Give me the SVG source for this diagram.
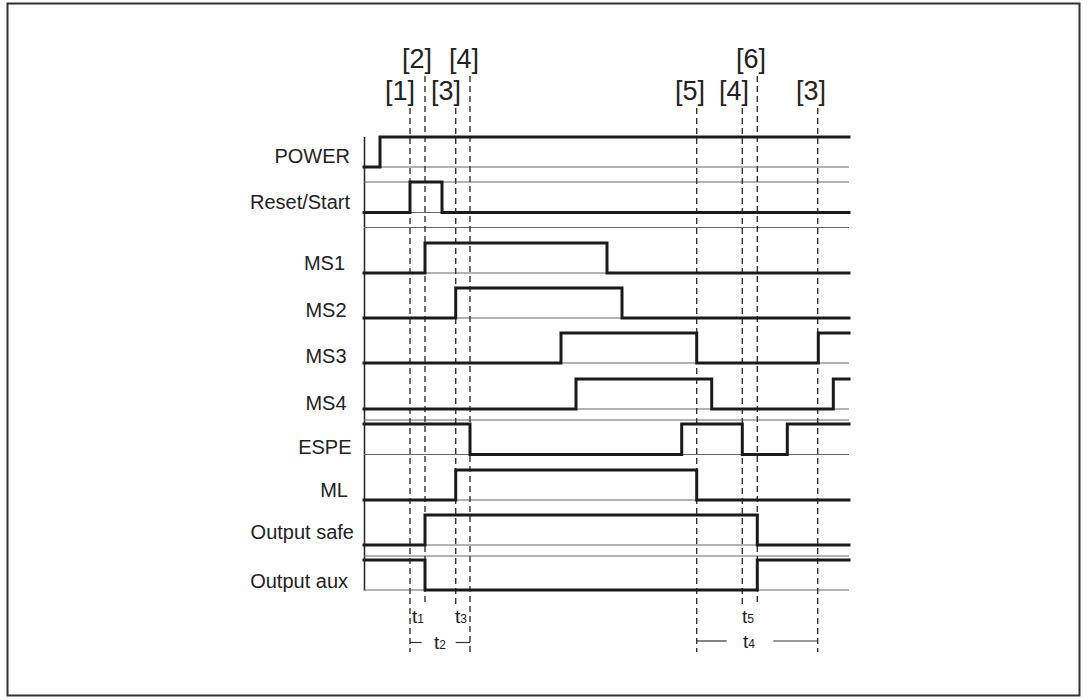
<svg xmlns="http://www.w3.org/2000/svg" width="1088" height="700" viewBox="0 0 1088 700">
  <style>
    .frame { fill: #fff; stroke: #333; stroke-width: 2; }
    .thin { stroke: #666; stroke-width: 1; fill: none; }
    .sig { stroke: #1a1a1a; stroke-width: 3; fill: none; stroke-linejoin: miter; stroke-linecap: square; }
    .dash { stroke: #333; stroke-width: 1.4; stroke-dasharray: 6 4; fill: none; }
    .dim { stroke: #333; stroke-width: 1.2; fill: none; }
    .lbl { font-family: "Liberation Sans", Arial, sans-serif; font-size: 20px; fill: #222; text-anchor: end; }
    .br { font-family: "Liberation Sans", Arial, sans-serif; font-size: 27px; fill: #222; text-anchor: middle; }
    .t { font-family: "Liberation Sans", Arial, sans-serif; font-size: 19px; fill: #222; }
    .sub { font-size: 12px; }
  </style>
  <rect class="frame" x="7.5" y="3.5" width="1072" height="692"/>

  <g id="axis">
    <line x1="364.5" y1="137" x2="364.5" y2="590.5" style="stroke:#222;stroke-width:1.5"/>
    <line class="thin" x1="364" y1="167" x2="849" y2="167"/>
    <line class="thin" x1="364" y1="182" x2="849" y2="182"/>
    <line class="thin" x1="364" y1="212.5" x2="849" y2="212.5"/>
    <line class="thin" x1="364" y1="227.5" x2="849" y2="227.5"/>
    <line class="thin" x1="364" y1="273" x2="849" y2="273"/>
    <line class="thin" x1="364" y1="318" x2="849" y2="318"/>
    <line class="thin" x1="364" y1="363" x2="849" y2="363"/>
    <line class="thin" x1="364" y1="409" x2="849" y2="409"/>
    <line class="thin" x1="364" y1="420" x2="849" y2="420"/>
    <line class="thin" x1="364" y1="454.5" x2="849" y2="454.5"/>
    <line class="thin" x1="364" y1="500" x2="849" y2="500"/>
    <line class="thin" x1="364" y1="545" x2="849" y2="545"/>
    <line class="thin" x1="364" y1="556" x2="849" y2="556"/>
    <line class="thin" x1="364" y1="590" x2="849" y2="590"/>
  </g>

  <g id="markers">
    <text class="br" x="417" y="68">[2]</text>
    <text class="br" x="464" y="68">[4]</text>
    <text class="br" x="400" y="100">[1]</text>
    <text class="br" x="446" y="100">[3]</text>
    <text class="br" x="751" y="68">[6]</text>
    <text class="br" x="690" y="100">[5]</text>
    <text class="br" x="734" y="100">[4]</text>
    <text class="br" x="811" y="100">[3]</text>
  </g>

  <g id="connectors">
    <line class="dash" x1="410" y1="108" x2="410" y2="652"/>
    <line class="dash" x1="425" y1="76" x2="425" y2="605"/>
    <line class="dash" x1="455.7" y1="108" x2="455.7" y2="605"/>
    <line class="dash" x1="470" y1="76" x2="470" y2="652"/>
    <line class="dash" x1="696.7" y1="108" x2="696.7" y2="652"/>
    <line class="dash" x1="742.3" y1="108" x2="742.3" y2="604"/>
    <line class="dash" x1="757.3" y1="76" x2="757.3" y2="605"/>
    <line class="dash" x1="817.7" y1="108" x2="817.7" y2="652"/>
    <line class="dim" x1="410" y1="642.5" x2="421.7" y2="642.5"/>
    <line class="dim" x1="455.7" y1="642.5" x2="470" y2="642.5"/>
    <line class="dim" x1="696.7" y1="641" x2="726.7" y2="641"/>
    <line class="dim" x1="773.3" y1="641" x2="817.7" y2="641"/>
  </g>

  <g id="POWER">
    <text class="lbl" x="350" y="162.5">POWER</text>
    <polyline class="sig" points="364,167 380,167 380,137 849,137"/>
  </g>
  <g id="ResetStart">
    <text class="lbl" x="350" y="208.5">Reset/Start</text>
    <polyline class="sig" points="364,212.5 410,212.5 410,182 442,182 442,212.5 849,212.5"/>
  </g>
  <g id="MS1">
    <text class="lbl" x="345" y="269.5">MS1</text>
    <polyline class="sig" points="364,273 425,273 425,243 607,243 607,273 849,273"/>
  </g>
  <g id="MS2">
    <text class="lbl" x="346.5" y="316.5">MS2</text>
    <polyline class="sig" points="364,318 455.7,318 455.7,288 622,288 622,318 849,318"/>
  </g>
  <g id="MS3">
    <text class="lbl" x="346.5" y="363">MS3</text>
    <polyline class="sig" points="364,363 561,363 561,333 696.7,333 696.7,363 818.3,363 818.3,333 849,333"/>
  </g>
  <g id="MS4">
    <text class="lbl" x="346.5" y="409.5">MS4</text>
    <polyline class="sig" points="364,409 576,409 576,379 711.7,379 711.7,409 833.3,409 833.3,379 849,379"/>
  </g>
  <g id="ESPE">
    <text class="lbl" x="351.5" y="453.5">ESPE</text>
    <polyline class="sig" points="364,424 470,424 470,454.5 681.7,454.5 681.7,424 742.3,424 742.3,454.5 787.3,454.5 787.3,424 849,424"/>
  </g>
  <g id="ML">
    <text class="lbl" x="348" y="497">ML</text>
    <polyline class="sig" points="364,500 455.7,500 455.7,470 696.7,470 696.7,500 849,500"/>
  </g>
  <g id="OutputSafe">
    <text class="lbl" x="354" y="539">Output safe</text>
    <polyline class="sig" points="364,545 425,545 425,515 757.3,515 757.3,545 849,545"/>
  </g>
  <g id="OutputAux">
    <text class="lbl" x="348" y="587.5">Output aux</text>
    <polyline class="sig" points="364,560 425,560 425,590 757.3,590 757.3,560 849,560"/>
  </g>

  <g id="times">
    <text class="t" x="412" y="623">t<tspan class="sub">1</tspan></text>
    <text class="t" x="455" y="623">t<tspan class="sub">3</tspan></text>
    <text class="t" x="434" y="649">t<tspan class="sub">2</tspan></text>
    <text class="t" x="742" y="622.5">t<tspan class="sub">5</tspan></text>
    <text class="t" x="743" y="648">t<tspan class="sub">4</tspan></text>
  </g>
</svg>
